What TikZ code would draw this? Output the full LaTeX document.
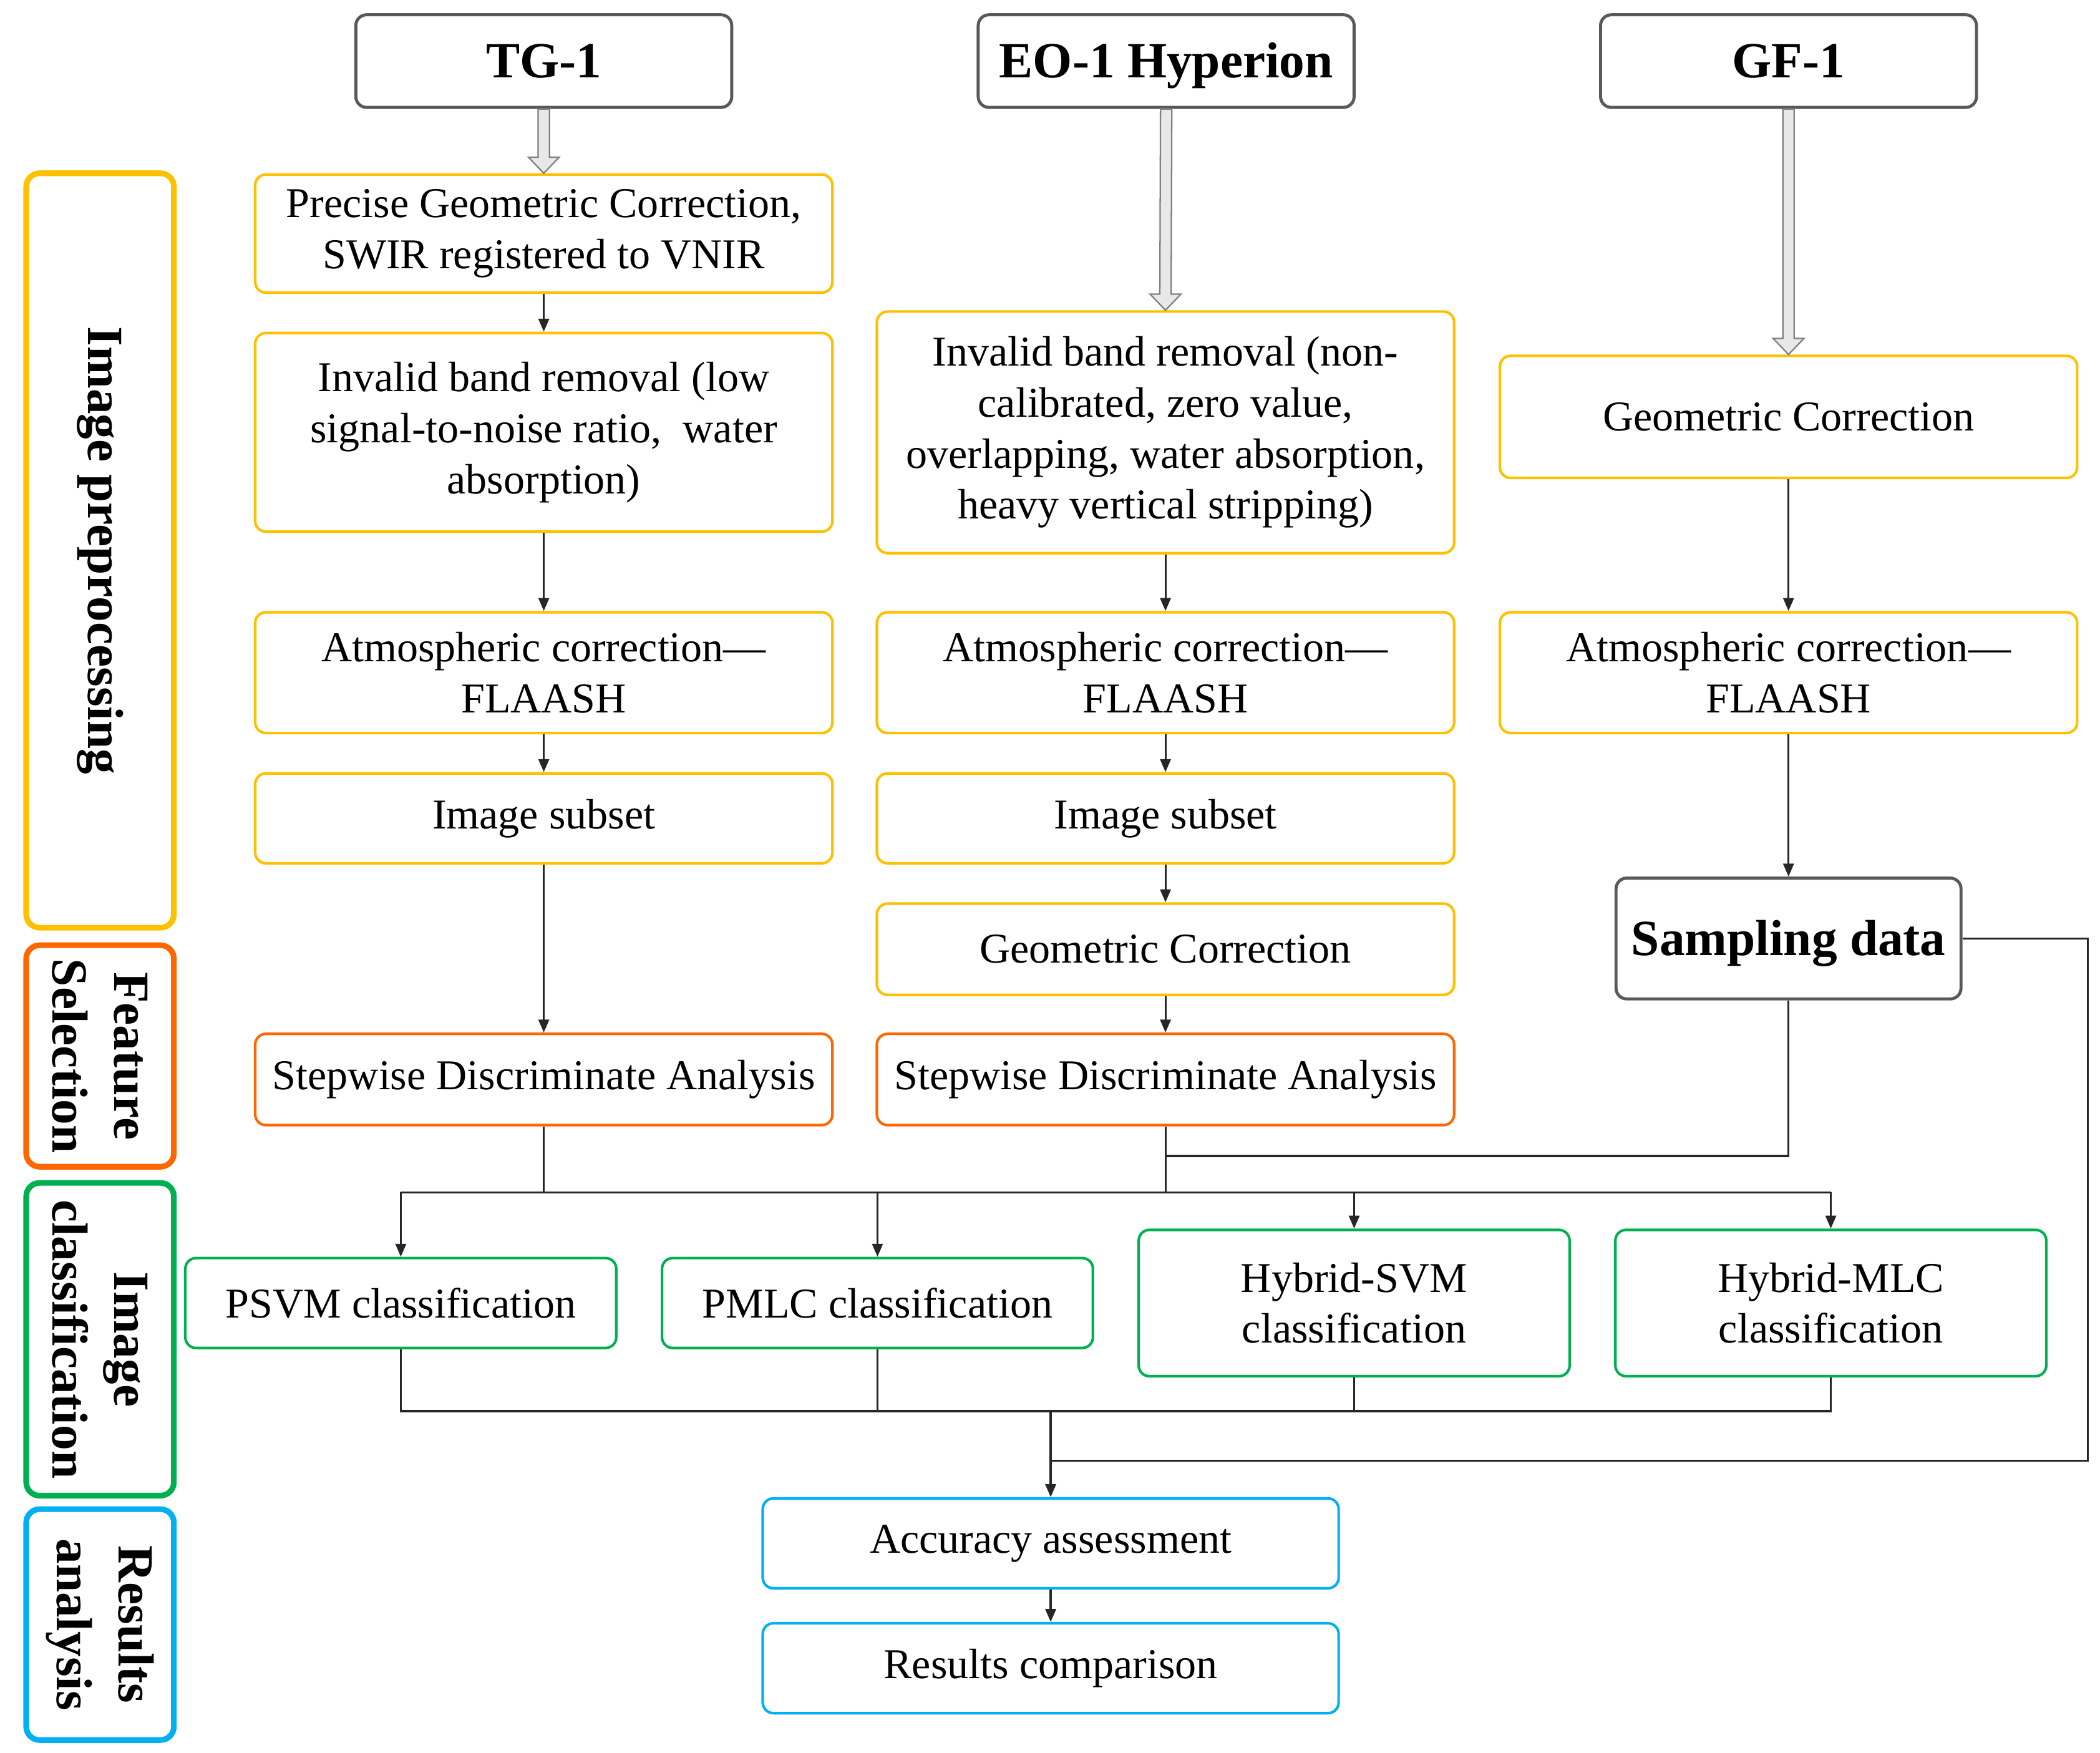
\documentclass[tikz,border=0pt]{standalone}
\usepackage{fontspec}
\setmainfont{Liberation Serif}
\usetikzlibrary{arrows.meta,calc}

\definecolor{preYellow}{RGB}{255,192,0}
\definecolor{feaOrange}{RGB}{255,102,0}
\definecolor{clsGreen}{RGB}{0,176,80}
\definecolor{resBlue}{RGB}{0,176,240}
\definecolor{srcGray}{RGB}{89,89,89}
\definecolor{hollowFill}{RGB}{232,232,232}
\definecolor{hollowDraw}{RGB}{128,128,128}

\begin{document}
\begin{tikzpicture}[x=0.02cm,y=0.02cm,yscale=-1,
  srcbox/.style={draw=srcGray,line width=1.3pt,rounded corners=0.16cm,font=\fontsize{21.5}{26}\selectfont\bfseries,minimum width=5.6cm,minimum height=1.38cm,inner sep=0pt,text height=0.5cm,text depth=0pt},
  procbox/.style={draw=#1,line width=1.1pt,rounded corners=0.16cm,align=center,font=\fontsize{18}{21.6}\selectfont,minimum width=8.6cm,minimum height=1.34cm,inner sep=0pt},
  stagebox/.style={draw=#1,line width=2.4pt,rounded corners=0.2cm,align=center,rotate=-90,font=\fontsize{21.5}{26}\selectfont\bfseries,minimum height=2.2cm,inner sep=0pt},
  link/.style={line width=0.85pt,black!85},
  arr/.style={link,-{Triangle[length=5.5pt,width=4.5pt]}},
  hollow/.style={draw=hollowDraw,fill=hollowFill,line width=0.6pt}
]
\useasboundingbox (0,0) rectangle (1564,1305.6);

%Source boxes
\node[srcbox] (tg) at (405,45.5) {TG-1};
\node[srcbox] (eo) at (868.5,45.5) {EO-1 Hyperion};
\node[srcbox] (gf) at (1332,45.5) {GF-1};

%Stage frames
\node[stagebox=preYellow,minimum width=11.24cm] (stPre) at (74.5,410) {Image preprocessing};
\node[stagebox=feaOrange,minimum width=3.3cm] (stFea) at (74.5,786.5) {Feature\\Selection};
\node[stagebox=clsGreen,minimum width=4.66cm] (stCls) at (74.5,997.5) {Image\\classification};
\node[stagebox=resBlue,minimum width=3.44cm] (stRes) at (74.5,1210) {Results\\analysis};

%TG-1 column
\node[procbox=preYellow,minimum height=1.76cm] (tgGeo) at (405,174) {Precise Geometric Correction,\\SWIR registered to VNIR};
\node[procbox=preYellow,minimum height=2.96cm] (tgBand) at (405,322) {Invalid band removal (low\\signal-to-noise ratio,~ water\\absorption)};
\node[procbox=preYellow,minimum height=1.8cm] (tgAtm) at (405,501) {Atmospheric correction—\\FLAASH};
\node[procbox=preYellow] (tgSub) at (405,609.5) {Image subset};
\node[procbox=feaOrange,minimum height=1.36cm] (tgSda) at (405,804) {Stepwise Discriminate Analysis};

%EO-1 column
\node[procbox=preYellow,minimum height=3.6cm] (eoBand) at (868,322) {Invalid band removal (non-\\calibrated, zero value,\\overlapping, water absorption,\\heavy vertical stripping)};
\node[procbox=preYellow,minimum height=1.8cm] (eoAtm) at (868,501) {Atmospheric correction—\\FLAASH};
\node[procbox=preYellow] (eoSub) at (868,609.5) {Image subset};
\node[procbox=preYellow,minimum height=1.36cm] (eoGeo) at (868,707) {Geometric Correction};
\node[procbox=feaOrange,minimum height=1.36cm] (eoSda) at (868,804) {Stepwise Discriminate Analysis};

%GF-1 column
\node[procbox=preYellow,minimum height=1.82cm] (gfGeo) at (1332,310.5) {Geometric Correction};
\node[procbox=preYellow,minimum height=1.8cm] (gfAtm) at (1332,501) {Atmospheric correction—\\FLAASH};
\node[srcbox,minimum width=5.14cm,minimum height=1.8cm] (sampling) at (1332,699) {Sampling data};

%Classification
\node[procbox=clsGreen,minimum width=6.42cm] (psvm) at (298.5,970.5) {PSVM classification};
\node[procbox=clsGreen,minimum width=6.42cm] (pmlc) at (653.5,970.5) {PMLC classification};
\node[procbox=clsGreen,minimum width=6.42cm,minimum height=2.18cm] (hsvm) at (1008.5,970.5) {Hybrid-SVM\\classification};
\node[procbox=clsGreen,minimum width=6.42cm,minimum height=2.18cm] (hmlc) at (1363.5,970.5) {Hybrid-MLC\\classification};

%Results
\node[procbox=resBlue,minimum width=8.58cm] (acc) at (782.5,1149.5) {Accuracy assessment};
\node[procbox=resBlue,minimum width=8.58cm] (res) at (782.5,1242.5) {Results comparison};

%Hollow arrows
\draw[hollow] ($(tg.south)+(-4.2,0)$) -- ($(tgGeo.north)+(-4.2,-12)$) -- ($(tgGeo.north)+(-11.5,-12)$) -- (tgGeo.north) -- ($(tgGeo.north)+(11.5,-12)$) -- ($(tgGeo.north)+(4.2,-12)$) -- ($(tg.south)+(4.2,0)$) -- cycle;
\draw[hollow] ($(eo.south)+(-4.2,0)$) -- ($(eoBand.north)+(-4.2,-12)$) -- ($(eoBand.north)+(-11.5,-12)$) -- (eoBand.north) -- ($(eoBand.north)+(11.5,-12)$) -- ($(eoBand.north)+(4.2,-12)$) -- ($(eo.south)+(4.2,0)$) -- cycle;
\draw[hollow] ($(gf.south)+(-4.2,0)$) -- ($(gfGeo.north)+(-4.2,-12)$) -- ($(gfGeo.north)+(-11.5,-12)$) -- (gfGeo.north) -- ($(gfGeo.north)+(11.5,-12)$) -- ($(gfGeo.north)+(4.2,-12)$) -- ($(gf.south)+(4.2,0)$) -- cycle;

%Column arrows
\draw[arr] (tgGeo) -- (tgBand);
\draw[arr] (tgBand) -- (tgAtm);
\draw[arr] (tgAtm) -- (tgSub);
\draw[arr] (tgSub) -- (tgSda);
\draw[arr] (eoBand) -- (eoAtm);
\draw[arr] (eoAtm) -- (eoSub);
\draw[arr] (eoSub) -- (eoGeo);
\draw[arr] (eoGeo) -- (eoSda);
\draw[arr] (gfGeo) -- (gfAtm);
\draw[arr] (gfAtm) -- (sampling);
\draw[arr] (acc) -- (res);

%Buses
\coordinate (busA) at (0,888);
\coordinate (busS) at (0,861);
\coordinate (busB) at (0,1051);
\coordinate (loop) at (1555,1088);

\draw[link] (tgSda.south) -- (tgSda.south |- busA);
\draw[link] (eoSda.south) -- (eoSda.south |- busA);
\draw[link] (sampling.south) |- (eoSda.south |- busS);
\draw[link] (psvm.north |- busA) -- (hmlc.north |- busA);
\draw[arr] (psvm.north |- busA) -- (psvm.north);
\draw[arr] (pmlc.north |- busA) -- (pmlc.north);
\draw[arr] (hsvm.north |- busA) -- (hsvm.north);
\draw[arr] (hmlc.north |- busA) -- (hmlc.north);
\draw[link] (psvm.south) -- (psvm.south |- busB) -- (hmlc.south |- busB) -- (hmlc.south);
\draw[link] (pmlc.south) -- (pmlc.south |- busB);
\draw[link] (hsvm.south) -- (hsvm.south |- busB);
\draw[arr] (acc.north |- busB) -- (acc.north);
\draw[link] (sampling.east) -| (loop) -- (acc.north |- loop);

\end{tikzpicture}
\end{document}
